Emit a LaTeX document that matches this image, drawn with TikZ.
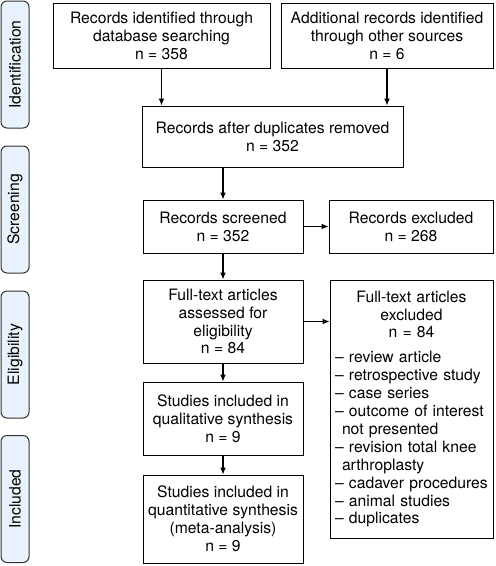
\documentclass[tikz,border=0pt]{standalone}
\usepackage{fontspec}
\setmainfont{TeX Gyre Heros}
\usetikzlibrary{arrows.meta}
\definecolor{phasebg}{RGB}{232,243,253}
\tikzset{%
    rec/.style={draw, line width=1pt, inner sep=0pt, align=center, font=\fontsize{15.7}{17.9}\selectfont},
    phase/.style={draw=black!80, line width=1pt, fill=phasebg, rounded corners=6pt, rotate=90, minimum width=127pt, minimum height=28pt, inner sep=0pt, font=\fontsize{15.7}{17.9}\selectfont},
    flw/.style={line width=1.1pt, -{Latex[length=7pt,width=6pt]}},
}

\begin{document}
\begin{tikzpicture}[x=1pt,y=-1pt]
    \useasboundingbox (0,0) rectangle (496,566);
    % phases
    \draw node[phase] (ident) at (15,64.5) {Identification};
    \draw node[phase] (scrn) at (15,209.5) {Screening};
    \draw node[phase] (elig) at (15,354.5) {Eligibility};
    \draw node[phase] (incl) at (15,499) {Included};
    % boxes
    \draw node[rec, minimum width=217pt, minimum height=65pt] (dbs) at (161.5,35.5) {Records identified through\\database searching\\n = 358};
    \draw node[rec, minimum width=212pt, minimum height=65pt] (oth) at (387,35.5) {Additional records identified\\through other sources\\n = 6};
    \draw node[rec, minimum width=261pt, minimum height=61pt] (dup) at (272.5,136.5) {Records after duplicates removed\\n = 352};
    \draw node[rec, minimum width=160pt, minimum height=53pt] (scr) at (223,226.5) {Records screened\\n = 352};
    \draw node[rec, minimum width=164pt, minimum height=53pt] (scrx) at (411,226.5) {Records excluded\\n = 268};
    \draw node[rec, minimum width=160pt, minimum height=83pt] (ft) at (223,321.5) {Full-text articles\\assessed for\\eligibility\\n = 84};
    \draw node[rec, minimum width=163pt, minimum height=258pt, inner xsep=5pt, text width=153pt, align=left] (ftx) at (411.5,409) {%
        \hyphenpenalty=10000
        {\centering Full-text articles\\excluded\\n = 84\par}\vspace{7pt}
        \hangindent=7pt\hangafter=1 -- review article\par
        \hangindent=7pt\hangafter=1 -- retrospective study\par
        \hangindent=7pt\hangafter=1 -- case series\par
        \hangindent=7pt\hangafter=1 -- outcome of interest\newline not presented\par
        \hangindent=7pt\hangafter=1 -- revision total knee\newline arthroplasty\par
        \hangindent=7pt\hangafter=1 -- cadaver procedures\par
        \hangindent=7pt\hangafter=1 -- animal studies\par
        \hangindent=7pt\hangafter=1 -- duplicates};
    \draw node[rec, minimum width=160pt, minimum height=73pt] (qual) at (223,418.5) {Studies included in\\qualitative synthesis\\n = 9};
    \draw node[rec, minimum width=160pt, minimum height=88pt] (quan) at (223,519) {Studies included in\\quantitative synthesis\\(meta-analysis)\\n = 9};
    % arrows
    \draw [flw] (dbs.south) -- (dbs.south |- dup.north);
    \draw [flw] (oth.south) -- (oth.south |- dup.north);
    \draw [flw] (dup.south -| scr.north) -- (scr.north);
    \draw [flw] (scr.east) -- (scr.east -| scrx.west);
    \draw [flw] (scr.south) -- (ft.north);
    \draw [flw] (ft.east) -- (ft.east -| ftx.west);
    \draw [flw] (ft.south) -- (qual.north);
    \draw [flw] (qual.south) -- (quan.north);
\end{tikzpicture}
\end{document}
